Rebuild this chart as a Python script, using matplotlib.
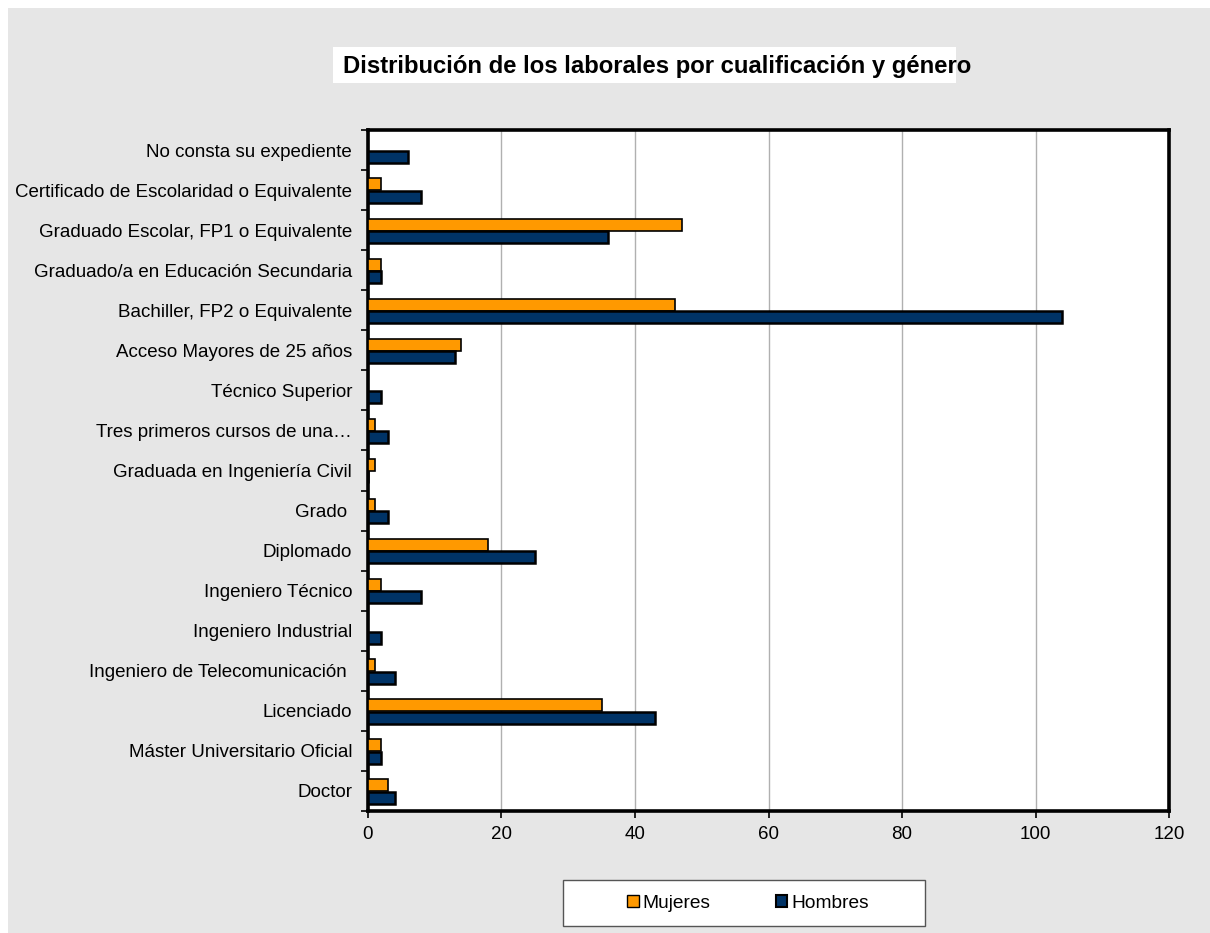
import matplotlib
matplotlib.use("Agg")
import matplotlib.pyplot as plt
from matplotlib.patches import Rectangle, Patch
from matplotlib.ticker import FixedLocator
import numpy as np

plt.rcParams['font.family'] = ['Liberation Sans', 'DejaVu Sans']

categories = [
    "No consta su expediente",
    "Certificado de Escolaridad o Equivalente",
    "Graduado Escolar, FP1 o Equivalente",
    "Graduado/a en Educación Secundaria",
    "Bachiller, FP2 o Equivalente",
    "Acceso Mayores de 25 años",
    "Técnico Superior",
    "Tres primeros cursos de una…",
    "Graduada en Ingeniería Civil",
    "Grado ",
    "Diplomado",
    "Ingeniero Técnico",
    "Ingeniero Industrial",
    "Ingeniero de Telecomunicación ",
    "Licenciado",
    "Máster Universitario Oficial",
    "Doctor",
]
mujeres = [0, 2, 47, 2, 46, 14, 0, 1, 1, 1, 18, 2, 0, 1, 35, 2, 3]
hombres = [6, 8, 36, 2, 104, 13, 2, 3, 0, 3, 25, 8, 2, 4, 43, 2, 4]
x_ticks = [0, 20, 40, 60, 80, 100, 120]
title = "Distribución de los laborales por cualificación y género"
series_names = ["Mujeres", "Hombres"]
colors = ["#FF9900", "#003366"]

W, H = 1210, 933
fig = plt.figure(figsize=(W / 100, H / 100), dpi=100)
fig.patch.set_facecolor("white")

# gray chart background
fig.patches.append(Rectangle((8 / W, 0), 1 - 8 / W, 1 - 8 / H, transform=fig.transFigure,
                             facecolor="#e6e6e6", edgecolor="none", zorder=-10))

ax = fig.add_axes([368 / W, 1 - 811 / H, (1169 - 368) / W, (811 - 130) / H])
ax.set_facecolor("white")

n = len(categories)
y = np.arange(n)[::-1].astype(float)
h = 0.3
ax.barh(y + 0.14, mujeres, height=h, color=colors[0], edgecolor="black", linewidth=1.2, zorder=3)
ax.barh(y - 0.17, hombres, height=h, color=colors[1], edgecolor="black", linewidth=1.8, zorder=3)

ax.set_xlim(0, 120)
ax.set_ylim(-0.5, n - 0.5)
ax.set_xticks(x_ticks)
ax.set_xticklabels([str(v) for v in x_ticks], fontsize=13.5)
ax.set_yticks(y)
ax.set_yticklabels(categories, fontsize=13.5)
ax.yaxis.set_minor_locator(FixedLocator(np.arange(n + 1) - 0.5))
ax.tick_params(axis="y", which="major", length=0, pad=11.5)
ax.tick_params(axis="y", which="minor", length=5, width=1.2, direction="out")
ax.tick_params(axis="x", which="major", length=5, width=1.2, direction="out", pad=6)

ax.grid(axis="x", color="#b0b0b0", linewidth=1.0, zorder=0)
for s in ax.spines.values():
    s.set_linewidth(2.6)
    s.set_color("black")

# title with white box
fig.patches.append(Rectangle((333 / W, 1 - 83 / H), (956 - 333) / W, 36 / H,
                             transform=fig.transFigure, facecolor="white", edgecolor="none", zorder=1))
fig.text(657 / W, 1 - 67 / H, title, ha="center", va="center", fontsize=17.2,
         fontweight="bold", zorder=2)

# legend box
fig.patches.append(Rectangle((563 / W, 1 - 926 / H), (925 - 563) / W, 46 / H,
                             transform=fig.transFigure, facecolor="white", edgecolor="#555555",
                             linewidth=1.0, zorder=1))
handles = [Patch(facecolor=colors[0], edgecolor="black", linewidth=1.0),
           Patch(facecolor=colors[1], edgecolor="black", linewidth=1.5)]
leg = fig.legend(handles, series_names, loc="center", bbox_to_anchor=(748 / W, 1 - 903 / H),
                 ncol=2, frameon=False, fontsize=13.8, handlelength=0.6, handleheight=0.6,
                 handletextpad=0.2, columnspacing=3.4)
leg.set_zorder(5)

fig.savefig("out.png", dpi=100, facecolor=fig.get_facecolor())
